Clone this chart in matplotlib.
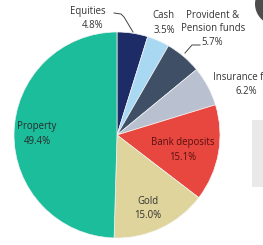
import matplotlib.pyplot as plt
from matplotlib.patches import Rectangle, Circle

categories = ["Equities", "Cash", "Provident &\nPension funds", "Insurance funds",
              "Bank deposits", "Gold", "Property"]
shares = [4.8, 3.5, 5.7, 6.2, 15.1, 15.0, 49.4]
colors = ["#1d2c66", "#a9d9f2", "#3f5066", "#b9c0cf", "#e8473f", "#dfd49b", "#1bbd9b"]

# label anchors in pixel coords (x, y from top)
name_pos = [(88, 12), (163, 16), (213, 22), (249, 78), (183, 143), (148, 202), (37, 127)]
pct_pos = [(93, 26), (164, 31), (212, 43), (246, 92), (183, 157), (148, 216), (37, 141)]
text_cols = ["#333333", "#333333", "#333333", "#333333", "#5a1010", "#333333", "#2a2a2a"]

W, H = 263, 245
fig = plt.figure(figsize=(W / 100, H / 100), dpi=100)
ax = fig.add_axes([0, 0, 1, 1])

ax.pie(shares, colors=colors, startangle=90, counterclock=False,
       center=(117, H - 135), radius=103, normalize=True,
       wedgeprops=dict(linewidth=0.5, edgecolor="#f4f4f4"))
ax.set_xlim(0, W)
ax.set_ylim(0, H)
ax.axis("off")

plt.rcParams['font.family'] = ['Open Sans', 'DejaVu Sans']
for name, pct, p1, p2, c in zip(categories, shares, name_pos, pct_pos, text_cols):
    ax.text(p1[0], H - p1[1], name, ha="center", va="center", fontsize=6.9,
            color=c, linespacing=1.15, clip_on=True)
    ax.text(p2[0], H - p2[1], f"{pct:.1f}%", ha="center", va="center",
            fontsize=6.9, color=c, clip_on=True)

# leader lines
ax.plot([114, 121, 124, 133], [H - 13, H - 14, H - 17, H - 32], color="#444444", lw=0.7)
ax.plot([185, 192, 200], [H - 53, H - 45, H - 45], color="#444444", lw=0.7)

# side panel and corner artefact
ax.add_patch(Rectangle((252, H - 187), 12, 67, color="#e9e9e9", lw=0))
ax.add_patch(Circle((276, H - 4), 21, color="#4d4d4d", lw=0))

fig.savefig("out.png", dpi=100)
